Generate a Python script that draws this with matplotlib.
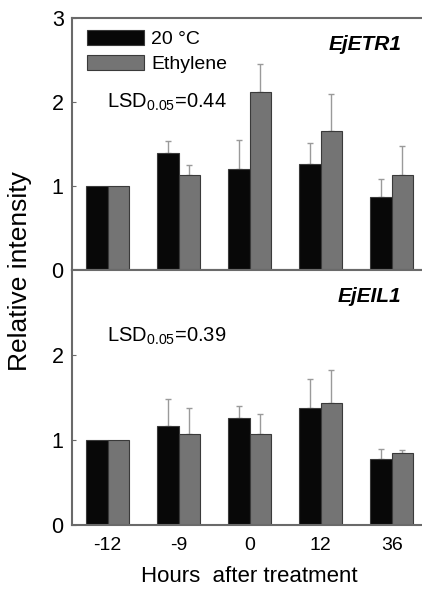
import numpy as np
import matplotlib
matplotlib.use("Agg")
import matplotlib.pyplot as plt

plt.rcParams['font.family'] = ['Liberation Sans', 'DejaVu Sans']
plt.rcParams['mathtext.default'] = 'regular'

# Data
hours = ['-12', '-9', '0', '12', '36']
series = ['20 \u00b0C', 'Ethylene']

etr1_ctrl = [1.00, 1.39, 1.20, 1.26, 0.87]
etr1_eth = [1.00, 1.13, 2.12, 1.66, 1.13]
etr1_ctrl_err = [0.00, 0.15, 0.35, 0.25, 0.21]
etr1_eth_err = [0.00, 0.12, 0.33, 0.43, 0.35]

eil1_ctrl = [1.00, 1.17, 1.26, 1.38, 0.78]
eil1_eth = [1.00, 1.07, 1.07, 1.44, 0.85]
eil1_ctrl_err = [0.00, 0.31, 0.14, 0.34, 0.11]
eil1_eth_err = [0.00, 0.31, 0.23, 0.38, 0.03]

genes = ['EjETR1', 'EjEIL1']
lsd = ['0.44', '0.39']

fig = plt.figure(figsize=(4.22, 5.90), dpi=100)
ax1 = fig.add_axes([0.1706, 0.5424, 0.842, 0.4271])
ax2 = fig.add_axes([0.1706, 0.1102, 0.842, 0.4322])

x = np.arange(len(hours))
w = 0.30
spine_col = '#6a6a6a'

panels = [
    (ax1, etr1_ctrl, etr1_eth, etr1_ctrl_err, etr1_eth_err),
    (ax2, eil1_ctrl, eil1_eth, eil1_ctrl_err, eil1_eth_err),
]


def upper_err(ax, xs, vals, errs):
    # only the upper half of the error bar, skip the zero ones
    xs, vals, errs = np.asarray(xs), np.asarray(vals), np.asarray(errs)
    m = errs > 0
    ax.errorbar(xs[m], vals[m], yerr=[np.zeros(m.sum()), errs[m]], fmt='none',
                ecolor='#9a9a9a', elinewidth=1.0, capsize=2.5, capthick=1.0,
                zorder=1)


for i, (ax, c, e, ce, ee) in enumerate(panels):
    ax.bar(x - w / 2, c, w, color='#080808', edgecolor='#3a3a3a', linewidth=0.8,
           label=series[0], zorder=2)
    ax.bar(x + w / 2, e, w, color='#747474', edgecolor='#3a3a3a', linewidth=0.8,
           label=series[1], zorder=2)
    upper_err(ax, x - w / 2, c, ce)
    upper_err(ax, x + w / 2, e, ee)
    ax.set_xlim(-0.5, 4.5)
    ax.set_ylim(0, 3)
    for s in ax.spines.values():
        s.set_color(spine_col)
        s.set_linewidth(1.5)
    ax.tick_params(axis='y', direction='in', length=3, color=spine_col,
                   labelsize=15.5, pad=6)
    ax.tick_params(axis='x', length=0, labelsize=14, pad=9)
    ax.text(4.14, 2.62, genes[i], ha='right', va='baseline', fontsize=15,
            fontweight='bold', style='italic')
    ax.text(-0.01, 1.93 if i == 0 else 2.16, 'LSD$_{0.05}$=' + lsd[i],
            ha='left', va='baseline', fontsize=14.5)

ax1.set_yticks([0, 1, 2, 3])
ax1.set_xticks(x)
ax1.set_xticklabels([])
ax2.set_yticks([0, 1, 2])
ax2.set_xticks(x)
ax2.set_xticklabels(hours)
ax2.set_xlabel('Hours  after treatment', fontsize=16, labelpad=8)
fig.text(0.048, 0.54, 'Relative intensity', rotation=90, ha='center',
         va='center', fontsize=19)

ax1.legend(loc='upper left', bbox_to_anchor=(0.01, 1.0), frameon=False,
           fontsize=14, handlelength=2.9, handleheight=0.85, labelspacing=0.35,
           handletextpad=0.4, borderaxespad=0.2)

fig.savefig('out.png', dpi=100)
